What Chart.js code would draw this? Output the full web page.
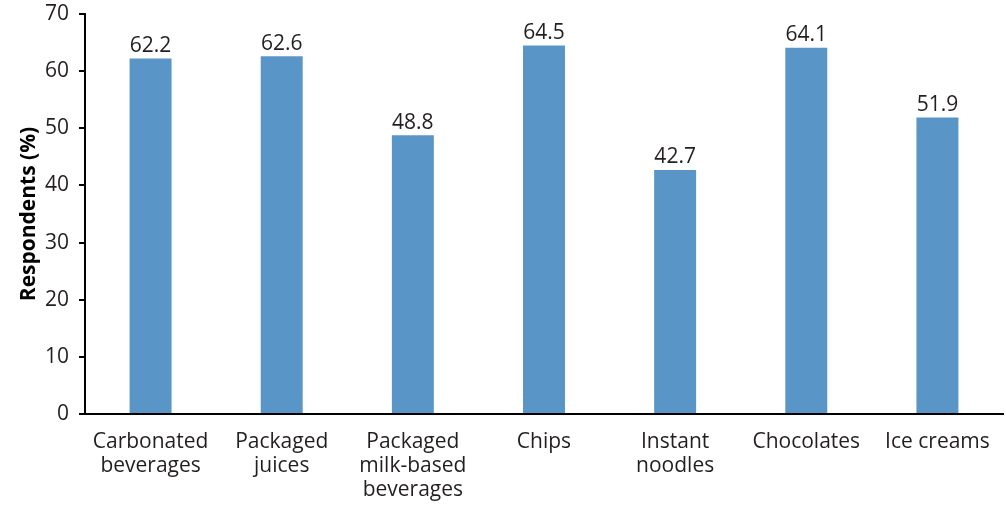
<!DOCTYPE html>
<html>
<head>
<meta charset="utf-8">
<script src="https://cdn.jsdelivr.net/npm/chart.js@4"></script>
<style>
  html, body { margin: 0; padding: 0; background: #fff; }
  #wrap { width: 1006px; height: 506px; }
</style>
</head>
<body>
<div id="wrap"><canvas id="myChart" width="1006" height="506"></canvas></div>
<script>
const categories = [
    ["Carbonated", "beverages"],
    ["Packaged", "juices"],
    ["Packaged", "milk-based", "beverages"],
    ["Chips"],
    ["Instant", "noodles"],
    ["Chocolates"],
    ["Ice creams"]
];
const respondents = [62.2, 62.6, 48.8, 64.5, 42.7, 64.1, 51.9];
const yTicks = [0, 10, 20, 30, 40, 50, 60, 70];

const fontFamily = "'Open Sans', 'Noto Sans', sans-serif";

// value labels above each bar
const barLabels = {
    id: "barLabels",
    afterDatasetsDraw(chart) {
        const ctx = chart.ctx;
        const meta = chart.getDatasetMeta(0);
        ctx.save();
        ctx.fillStyle = "#231f20";
        ctx.font = "21px " + fontFamily;
        ctx.textAlign = "center";
        ctx.textBaseline = "bottom";
        meta.data.forEach((bar, i) => {
            ctx.fillText(respondents[i].toFixed(1), bar.x, bar.y - 2);
        });
        ctx.restore();
    }
};

const ctx = document.getElementById("myChart");

let myChart = new Chart(ctx, {
    type: 'bar',
    data: {
        labels: categories,
        datasets: [{
            label: 'Respondents (%)',
            data: respondents,
            backgroundColor: '#5a95c7',
            borderWidth: 0,
            barPercentage: 0.32,
            categoryPercentage: 1
        }]
    },
    options: {
        responsive: false,
        animation: false,
        devicePixelRatio: 1,
        layout: {
            padding: {top: 14, right: 3, left: 16, bottom: 0}
        },
        plugins: {
            legend: {display: false},
            tooltip: {enabled: false}
        },
        scales: {
            x: {
                grid: {display: false},
                border: {display: true, color: '#000', width: 2},
                ticks: {
                    color: '#231f20',
                    font: {family: fontFamily, size: 21, lineHeight: 1.15},
                    padding: 8,
                    maxRotation: 0,
                    autoSkip: false
                },
                afterFit(scale) {
                    scale.height = 92;
                }
            },
            y: {
                min: 0,
                max: 70,
                afterBuildTicks(scale) {
                    scale.ticks = yTicks.map(v => ({value: v}));
                },
                grid: {
                    display: true,
                    drawOnChartArea: false,
                    drawTicks: true,
                    tickLength: 6,
                    color: '#000',
                    lineWidth: 2
                },
                border: {display: true, color: '#000', width: 2},
                ticks: {
                    color: '#231f20',
                    font: {family: fontFamily, size: 21},
                    padding: 10
                },
                title: {
                    display: true,
                    text: 'Respondents (%)',
                    color: '#000',
                    font: {family: fontFamily, size: 21, weight: 'bold'},
                    padding: {top: 0, bottom: 2}
                },
                afterFit(scale) {
                    scale.width = 69;
                    scale.paddingTop = 0;
                    scale.paddingBottom = 0;
                }
            }
        }
    },
    plugins: [barLabels]
});
</script>
</body>
</html>
